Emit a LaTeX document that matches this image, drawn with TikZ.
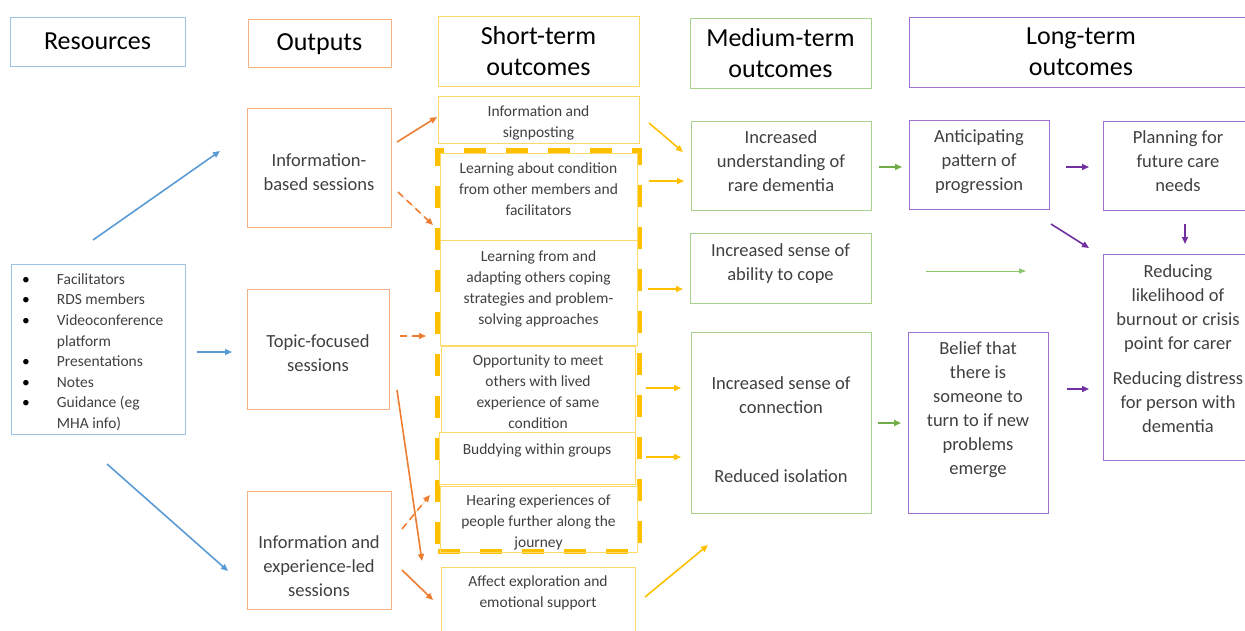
\documentclass[tikz,border=0pt]{standalone}
\usepackage{fontspec}
\setmainfont{Carlito}
\usetikzlibrary{arrows.meta}
\definecolor{tx}{HTML}{404040}
\definecolor{resC}{HTML}{9DC3E6}
\definecolor{outC}{HTML}{F4B183}
\definecolor{stC}{HTML}{FFD966}
\definecolor{mdC}{HTML}{A9D18E}
\definecolor{lgC}{HTML}{A070D0}
\definecolor{arB}{HTML}{5B9BD5}
\definecolor{arO}{HTML}{ED7D31}
\definecolor{arY}{HTML}{FFC000}
\definecolor{arG}{HTML}{70AD47}
\definecolor{arGl}{HTML}{8CC56A}
\definecolor{arP}{HTML}{7030A0}
\newcommand\bx[9]{%
  \node[#1, minimum width={(#6-#4)*1pt}, minimum height={(#7-#5)*1pt}] (#3) at ({(#4+#6)/2},{(#5+#7)/2}) {};
  \node[txt, #2] (#3-t) at ({(#4+#6)/2},{#8+3.5}) {#9};
}
\begin{document}
\begin{tikzpicture}[x=1pt,y=-1pt,
  box/.style={draw, line width=1pt, inner sep=0pt},
  resbox/.style={box, draw=resC},
  outbox/.style={box, draw=outC},
  stbox/.style={box, draw=stC},
  mdbox/.style={box, draw=mdC},
  lgbox/.style={box, draw=lgC},
  txt/.style={inner sep=0pt, align=center, text=tx,
    execute at begin node=\strut, execute at end node=\strut},
  hdr/.style={font=\fontsize{26}{31}\selectfont, text=black},
  big/.style={font=\fontsize{18.5}{24}\selectfont},
  small/.style={font=\fontsize{15.5}{21}\selectfont},
  tip/.style={-{Triangle[length=7pt,width=6pt]}},
  barr/.style={tip, draw=arB, fill=arB, line width=1.6pt},
  oarr/.style={tip, draw=arO, fill=arO, line width=1.6pt},
  odash/.style={oarr, dash pattern=on 7pt off 5pt},
  yarr/.style={tip, draw=arY, fill=arY, line width=1.6pt},
  garr/.style={tip, draw=arG, fill=arG, line width=1.6pt},
  gthin/.style={-{Triangle[length=7pt,width=5pt]}, draw=arGl, fill=arGl, line width=0.9pt},
  parr/.style={tip, draw=arP, fill=arP, line width=1.6pt},
  dashbox/.style={draw=arY, line width=5pt, dash pattern=on 22pt off 20pt, inner sep=0pt}
]
\useasboundingbox (0,0) rectangle (1245,630);

% headers
\bx{resbox}{hdr}{hRes}{10}{17}{185}{66}{39.5}{Resources}
\bx{outbox}{hdr}{hOut}{248}{19}{391}{67}{41}{Outputs}
\bx{stbox}{hdr}{hSt}{438}{16}{639}{86}{52.5}{Short-term\\outcomes}
\bx{mdbox}{hdr}{hMd}{690}{18}{871}{88}{54}{Medium-term\\outcomes}
\bx{lgbox}{hdr}{hLg}{909}{17}{1253}{87}{52.5}{Long-term\\outcomes}

% resources list
\node[resbox, minimum width=174pt, minimum height=170pt] (res) at (98,349) {};
\node[anchor=north west, inner sep=0pt, text=tx, font=\fontsize{15.5}{20.6}\selectfont] (reslist) at (22,269.6)
{\begin{tabular}{@{}l@{\hspace{27pt}}l@{}}
\textcolor{black}{\textbullet} & Facilitators\\
\textcolor{black}{\textbullet} & RDS members\\
\textcolor{black}{\textbullet} & Videoconference\\
 & platform\\
\textcolor{black}{\textbullet} & Presentations\\
\textcolor{black}{\textbullet} & Notes\\
\textcolor{black}{\textbullet} & Guidance (eg\\
 & MHA info)
\end{tabular}};

% outputs
\bx{outbox}{big}{ib}{247}{108}{391}{227}{172}{Information-\\based sessions}
\bx{outbox}{big}{tf}{247}{289}{389}{409}{353}{Topic-focused\\sessions}
\bx{outbox}{big}{ie}{247}{491}{391}{609}{566}{Information and\\experience-led\\sessions}

% short-term group outline
\node[dashbox, minimum width=201.5pt, minimum height=401.5pt] (grp) at (538.25,350.75) {};

% short-term
\bx{stbox}{small}{st1}{438}{96}{639}{143}{121.5}{Information and\\signposting}
\bx{stbox}{small}{st2}{440}{153}{637}{240}{189}{Learning about condition\\from other members and\\facilitators}
\bx{stbox}{small}{st3}{440}{240}{637}{345}{287}{Learning from and\\adapting others coping\\strategies and problem-\\solving approaches}
\bx{stbox}{small}{st4}{441}{346}{635}{432}{391}{Opportunity to meet\\others with lived\\experience of same\\condition}
\bx{stbox}{small}{st5}{439}{432}{635}{484}{447}{Buddying within groups}
\bx{stbox}{small}{st6}{440}{486}{637}{552}{521}{Hearing experiences of\\people further along the\\journey}
\bx{stbox}{small}{st7}{441}{567}{635}{640}{591.5}{Affect exploration and\\emotional support}

% medium-term
\bx{mdbox}{big}{m1}{691}{121}{871}{210}{161.5}{Increased\\understanding of\\rare dementia}
\bx{mdbox}{big}{m2}{690}{233}{871}{303}{262}{Increased sense of\\ability to cope}
\bx{mdbox}{big}{m3}{691}{332}{871}{513}{430}{Increased sense of\\connection\\[45pt]Reduced isolation}

% long-term
\bx{lgbox}{big}{l1}{909}{120}{1049}{209}{160}{Anticipating\\pattern of\\progression}
\bx{lgbox}{big}{l2}{1103}{121}{1253}{210}{161.5}{Planning for\\future care\\needs}
\bx{lgbox}{big}{l3}{1103}{254}{1253}{460}{348.5}{Reducing\\likelihood of\\burnout or crisis\\point for carer\\[11pt]Reducing distress\\for person with\\dementia}
\bx{lgbox}{big}{l4}{908}{332}{1048}{513}{408}{Belief that\\there is\\someone to\\turn to if new\\problems\\emerge}

% connector end points
\coordinate (b1s) at (93,240);   \coordinate (b1e) at (220,151);
\coordinate (b2s) at (197,352);  \coordinate (b2e) at (232,352);
\coordinate (b3s) at (107,464);  \coordinate (b3e) at (228,571);
\coordinate (o1s) at (397,142);  \coordinate (o1e) at (437,117);
\coordinate (o2s) at (398,192);  \coordinate (o2e) at (433,225);
\coordinate (o3s) at (400,336);  \coordinate (o3e) at (426,336);
\coordinate (o4s) at (397,390);  \coordinate (o4e) at (422,561);
\coordinate (o5s) at (402,529);  \coordinate (o5e) at (430,495);
\coordinate (o6s) at (402,570);  \coordinate (o6e) at (433,600);
\coordinate (y1s) at (649,123);  \coordinate (y1e) at (683,152);
\coordinate (y2s) at (649,181);  \coordinate (y2e) at (684,181);
\coordinate (y3s) at (648,289);  \coordinate (y3e) at (683,289);
\coordinate (y4s) at (646,388);  \coordinate (y4e) at (681,388);
\coordinate (y5s) at (646,457);  \coordinate (y5e) at (681,457);
\coordinate (y6s) at (645,597);  \coordinate (y6e) at (708,545);
\coordinate (g1s) at (879,167);  \coordinate (g1e) at (902,167);
\coordinate (g2s) at (926,271);  \coordinate (g2e) at (1026,271);
\coordinate (g3s) at (878,423);  \coordinate (g3e) at (901,423);
\coordinate (p1s) at (1066,167); \coordinate (p1e) at (1089,167);
\coordinate (p2s) at (1051,224); \coordinate (p2e) at (1089,248);
\coordinate (p3s) at (1185,224); \coordinate (p3e) at (1185,244);
\coordinate (p4s) at (1067,389); \coordinate (p4e) at (1089,389);

\draw[barr] (b1s) -- (b1e);
\draw[barr] (b2s) -- (b2e);
\draw[barr] (b3s) -- (b3e);
\draw[oarr] (o1s) -- (o1e);
\draw[odash] (o2s) -- (o2e);
\draw[odash] (o3s) -- (o3e);
\draw[oarr] (o4s) -- (o4e);
\draw[odash] (o5s) -- (o5e);
\draw[oarr] (o6s) -- (o6e);
\draw[yarr] (y1s) -- (y1e);
\draw[yarr] (y2s) -- (y2e);
\draw[yarr] (y3s) -- (y3e);
\draw[yarr] (y4s) -- (y4e);
\draw[yarr] (y5s) -- (y5e);
\draw[yarr] (y6s) -- (y6e);
\draw[garr] (g1s) -- (g1e);
\draw[gthin] (g2s) -- (g2e);
\draw[garr] (g3s) -- (g3e);
\draw[parr] (p1s) -- (p1e);
\draw[parr] (p2s) -- (p2e);
\draw[parr] (p3s) -- (p3e);
\draw[parr] (p4s) -- (p4e);
\end{tikzpicture}
\end{document}
